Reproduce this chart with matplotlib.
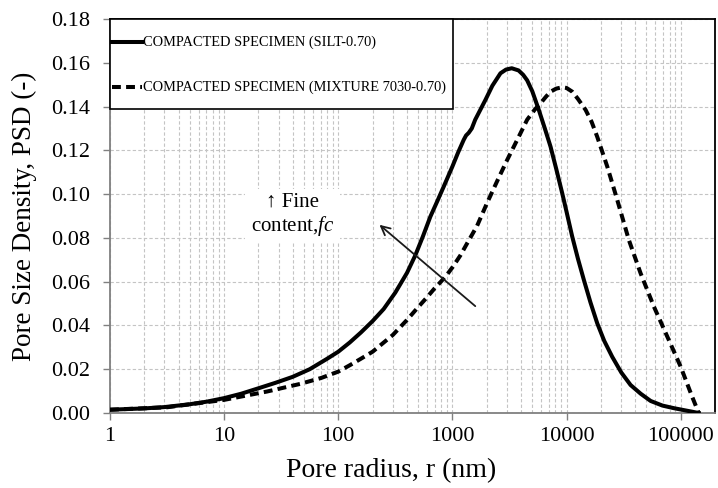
import matplotlib
matplotlib.use("Agg")
import matplotlib.pyplot as plt
from matplotlib.lines import Line2D
from matplotlib.patches import Rectangle
from matplotlib.ticker import LogLocator, FixedLocator, FuncFormatter, NullFormatter

plt.rcParams['font.family'] = ['Liberation Serif', 'DejaVu Serif']
plt.rcParams['mathtext.fontset'] = 'custom'
plt.rcParams['mathtext.it'] = 'Liberation Serif:italic'
plt.rcParams['mathtext.rm'] = 'Liberation Serif'

# Data
silt_r = [1, 2, 3, 5, 7.08, 10, 14.1, 20, 28.2, 39.8, 56.2, 79.4, 100, 126, 158, 200,
          250, 316, 400, 473, 550, 641, 741, 839, 1000, 1122, 1257, 1318, 1390, 1479,
          1585, 1946, 2239, 2637, 2951, 3311, 3802, 4169, 4519, 5012, 5715, 6457,
          7244, 8128, 9170, 10000, 11220, 12589, 14190, 16218, 18580, 21380, 25130,
          30200, 36400, 44670, 54600, 69180, 87300, 112200, 144000]
silt_psd = [0.0015, 0.0021, 0.0027, 0.0040, 0.0052, 0.0068, 0.0088, 0.0113, 0.0138,
            0.0165, 0.0200, 0.0247, 0.0280, 0.0322, 0.0368, 0.0420, 0.0475, 0.0550,
            0.0640, 0.0720, 0.0805, 0.0897, 0.0970, 0.1034, 0.1126, 0.1190, 0.1248,
            0.1268, 0.1280, 0.1300, 0.1340, 0.1430, 0.1495, 0.1552, 0.1569, 0.1575,
            0.1565, 0.1545, 0.1520, 0.1470, 0.1385, 0.1300, 0.1217, 0.1115, 0.1004,
            0.0920, 0.0806, 0.0705, 0.0608, 0.0505, 0.0410, 0.0330, 0.0257, 0.0185,
            0.0128, 0.0088, 0.0055, 0.0034, 0.0022, 0.0011, 0.0]

mix_r = [1, 3.14, 10, 23.7, 46.4, 70.8, 91, 100, 127, 158, 200, 300, 400, 500, 600,
         700, 800, 900, 1000, 1175, 1346, 1646, 2015, 2512, 3020, 3715, 4520, 5250,
         5920, 6607, 7244, 8128, 9170, 10000, 11220, 12589, 14690, 16600, 18580,
         22750, 27850, 35200, 44600, 58300, 76400, 100000, 126000, 144000]
mix_psd = [0.0015, 0.0026, 0.0060, 0.0098, 0.0133, 0.0160, 0.0181, 0.0189, 0.0219,
           0.0248, 0.0280, 0.0356, 0.0425, 0.0483, 0.0529, 0.0570, 0.0602, 0.0633,
           0.0665, 0.0720, 0.0775, 0.0855, 0.0960, 0.1068, 0.1156, 0.1250, 0.1340,
           0.1385, 0.1415, 0.1445, 0.1468, 0.1482, 0.1488, 0.1485, 0.1468, 0.1435,
           0.1385, 0.1330, 0.1262, 0.1126, 0.0973, 0.0790, 0.0638, 0.0486, 0.0349,
           0.0212, 0.0075, 0.0]

labels = ["COMPACTED SPECIMEN (SILT-0.70)", "COMPACTED SPECIMEN (MIXTURE 7030-0.70)"]
x_ticks = [1, 10, 100, 1000, 10000, 100000]
y_ticks = [0.00, 0.02, 0.04, 0.06, 0.08, 0.10, 0.12, 0.14, 0.16, 0.18]

fig = plt.figure(figsize=(7.18, 4.88), dpi=100)
ax = fig.add_axes([110/718, 1-413/488, (715-110)/718, (413-19)/488])

dash = (0, (2.2, 1.3))
ax.plot(silt_r, silt_psd, color='black', lw=2.9, zorder=3)
ax.plot(mix_r, mix_psd, color='black', lw=2.9, linestyle=dash, zorder=3)

ax.set_xscale('log')
ax.set_xlim(1, 200000)
ax.set_ylim(0, 0.18)
ax.xaxis.set_major_locator(FixedLocator(x_ticks))
ax.xaxis.set_minor_locator(LogLocator(base=10, subs=range(2, 10), numticks=20))
ax.xaxis.set_major_formatter(FuncFormatter(lambda v, p: f"{v:.0f}"))
ax.xaxis.set_minor_formatter(NullFormatter())
ax.yaxis.set_major_locator(FixedLocator(y_ticks))
ax.yaxis.set_major_formatter(FuncFormatter(lambda v, p: f"{v:.2f}"))

ax.grid(True, which='major', axis='both', color='#c4c4c4', linestyle=(0, (3, 2)), lw=0.8)
ax.grid(True, which='minor', axis='x', color='#c4c4c4', linestyle=(0, (3, 2)), lw=0.8)
ax.set_axisbelow(True)

ax.tick_params(axis='x', which='major', direction='out', length=5, width=1,
               color='#808080', labelsize=16, pad=5)
ax.tick_params(axis='y', which='major', direction='out', length=5, width=1,
               color='#808080', labelsize=16, pad=9.5)
ax.tick_params(axis='both', which='minor', length=0)
for s in ['left', 'bottom']:
    ax.spines[s].set_color('#808080')
    ax.spines[s].set_linewidth(1.3)
for s in ['top', 'right']:
    ax.spines[s].set_color('black')
    ax.spines[s].set_linewidth(1.3)

ax.set_xlabel("Pore radius, r (nm)", fontsize=20)
ax.xaxis.set_label_coords((391-110)/605, (413-458)/394)
ax.set_ylabel("Pore Size Density, PSD (-)", fontsize=19.5)
ax.yaxis.set_label_coords((37-110)/605, 0.5)

# Legend box drawn in axes coordinates
def fx(px):
    return (px - 110) / 605.0

def fy(py):
    return (413 - py) / 394.0

ax.add_patch(Rectangle((fx(110), fy(109)), fx(453) - fx(110), fy(19) - fy(109),
                       transform=ax.transAxes, facecolor='white', edgecolor='black',
                       lw=1.2, zorder=5, clip_on=False))
rows = [42, 87]
styles = ['-', dash]
for lab, row, st in zip(labels, rows, styles):
    ax.add_line(Line2D([fx(112), fx(142)], [fy(row), fy(row)], transform=ax.transAxes,
                       color='black', lw=2.9, linestyle=st, zorder=6, clip_on=False))
    ax.text(fx(143), fy(row), lab, transform=ax.transAxes, fontsize=10.4,
            ha='left', va='center', zorder=6)

ax.text(40, 0.0905, "\u2191 Fine\ncontent,$fc$", fontsize=15, ha='center', va='center',
        multialignment='center', linespacing=1.15,
        bbox=dict(facecolor='white', edgecolor='none', pad=4), zorder=4)
ax.annotate("", xy=(220, 0.0868), xytext=(1656, 0.048),
            arrowprops=dict(arrowstyle='->', color='#1a1a1a', lw=1.3, mutation_scale=16),
            zorder=4)

fig.savefig("out.png", dpi=100)
